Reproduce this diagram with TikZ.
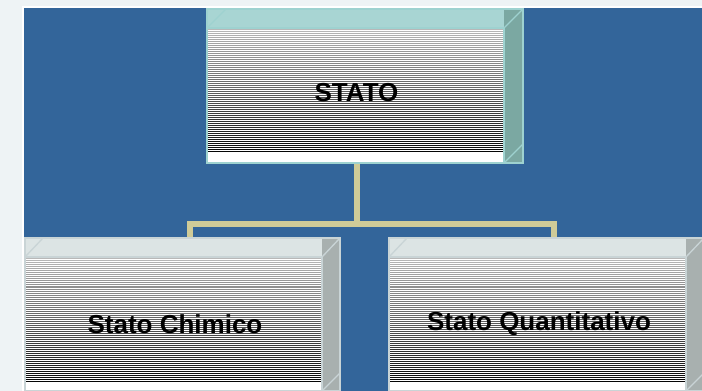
\documentclass[tikz,border=0pt]{standalone}
\usepackage{fontspec}
\setmainfont{Liberation Sans}
\pgfdeclarelayer{bg}
\pgfsetlayers{bg,main}
\definecolor{marble}{HTML}{EEF3F5}
\definecolor{bgblue}{HTML}{33659A}
\definecolor{conncol}{HTML}{CFCB98}
\definecolor{tealtop}{HTML}{A8D5D3}
\definecolor{tealside}{HTML}{7BA8A2}
\definecolor{tealline}{HTML}{9ED2D0}
\definecolor{graytop}{HTML}{DCE4E4}
\definecolor{grayside}{HTML}{A8B0AF}
\definecolor{grayline}{HTML}{C9D4D6}
% #1 x1, #2 xf, #3 x3, #4 ytop, #5 yf, #6 ybot, #7 topcol, #8 sidecol, #9 linecol
\newcommand\mybox[9]{%
  \fill[#7] (#1,#4) rectangle (#3,#5);
  \fill[#8] (#2,#4) rectangle (#3,#6);
  \fill[white] (#1,#5) rectangle (#2,#6);
  \foreach \k in {0,...,61}{%
    \pgfmathsetmacro\yy{#5+2+2*\k}%
    \pgfmathsetmacro\pp{28+70*\k/61}%
    \draw[black!\pp, line width=0.75pt] (#1+1,\yy) -- (#2-1,\yy);
  }
  \draw[#9, line width=1pt] (#1,#5) -- (#1+#3-#2,#4);
  \draw[#9, line width=1pt] (#2,#5) -- (#3,#4);
  \draw[#9, line width=1pt] (#2,#6) -- (#3,#6-#3+#2);
  \draw[#9, line width=1.2pt] (#1,#5) -- (#2,#5) -- (#2,#6);
  \draw[#9, line width=1.2pt] (#1,#6) -- (#1,#4) -- (#3,#4) -- (#3,#6) -- cycle;
}
\begin{document}
\begin{tikzpicture}[x=0.75pt,y=-0.75pt,
  lbl/.style={font=\bfseries\fontsize{19.5}{22}\selectfont, text=black, inner sep=0pt},
  conn/.style={draw=conncol, line width=4.5pt}]
\useasboundingbox (0,0) rectangle (702,391);
\node[lbl, minimum width=222.75pt, minimum height=101.25pt] (stato) at (356.5,93) {STATO};
\node[lbl, minimum width=222.75pt, minimum height=100.5pt] (chim) at (175,324) {Stato Chimico};
\node[lbl, minimum width=222.75pt, minimum height=100.5pt] (quant) at (539,324) {Stato Quantitativo};
\coordinate (jL) at (190,224);
\coordinate (jR) at (554,224);
\begin{pgfonlayer}{bg}
  \fill[marble] (0,0) rectangle (702,391);
  \draw[white, line width=1pt] (23,391) -- (23,7) -- (702,7);
  \fill[bgblue] (24,8) rectangle (702,391);
  \draw[conn] (stato.south) -- (stato.south |- jL);
  \draw[conn] (jL |- chim.north) -- (jL) -- (jR) -- (jR |- quant.north);
  \mybox{207}{504}{523}{9}{28}{163}{tealtop}{tealside}{tealline}
  \mybox{25}{322}{340}{238}{257}{391}{graytop}{grayside}{grayline}
  \mybox{389}{686}{704}{238}{257}{391}{graytop}{grayside}{grayline}
\end{pgfonlayer}
\end{tikzpicture}
\end{document}
